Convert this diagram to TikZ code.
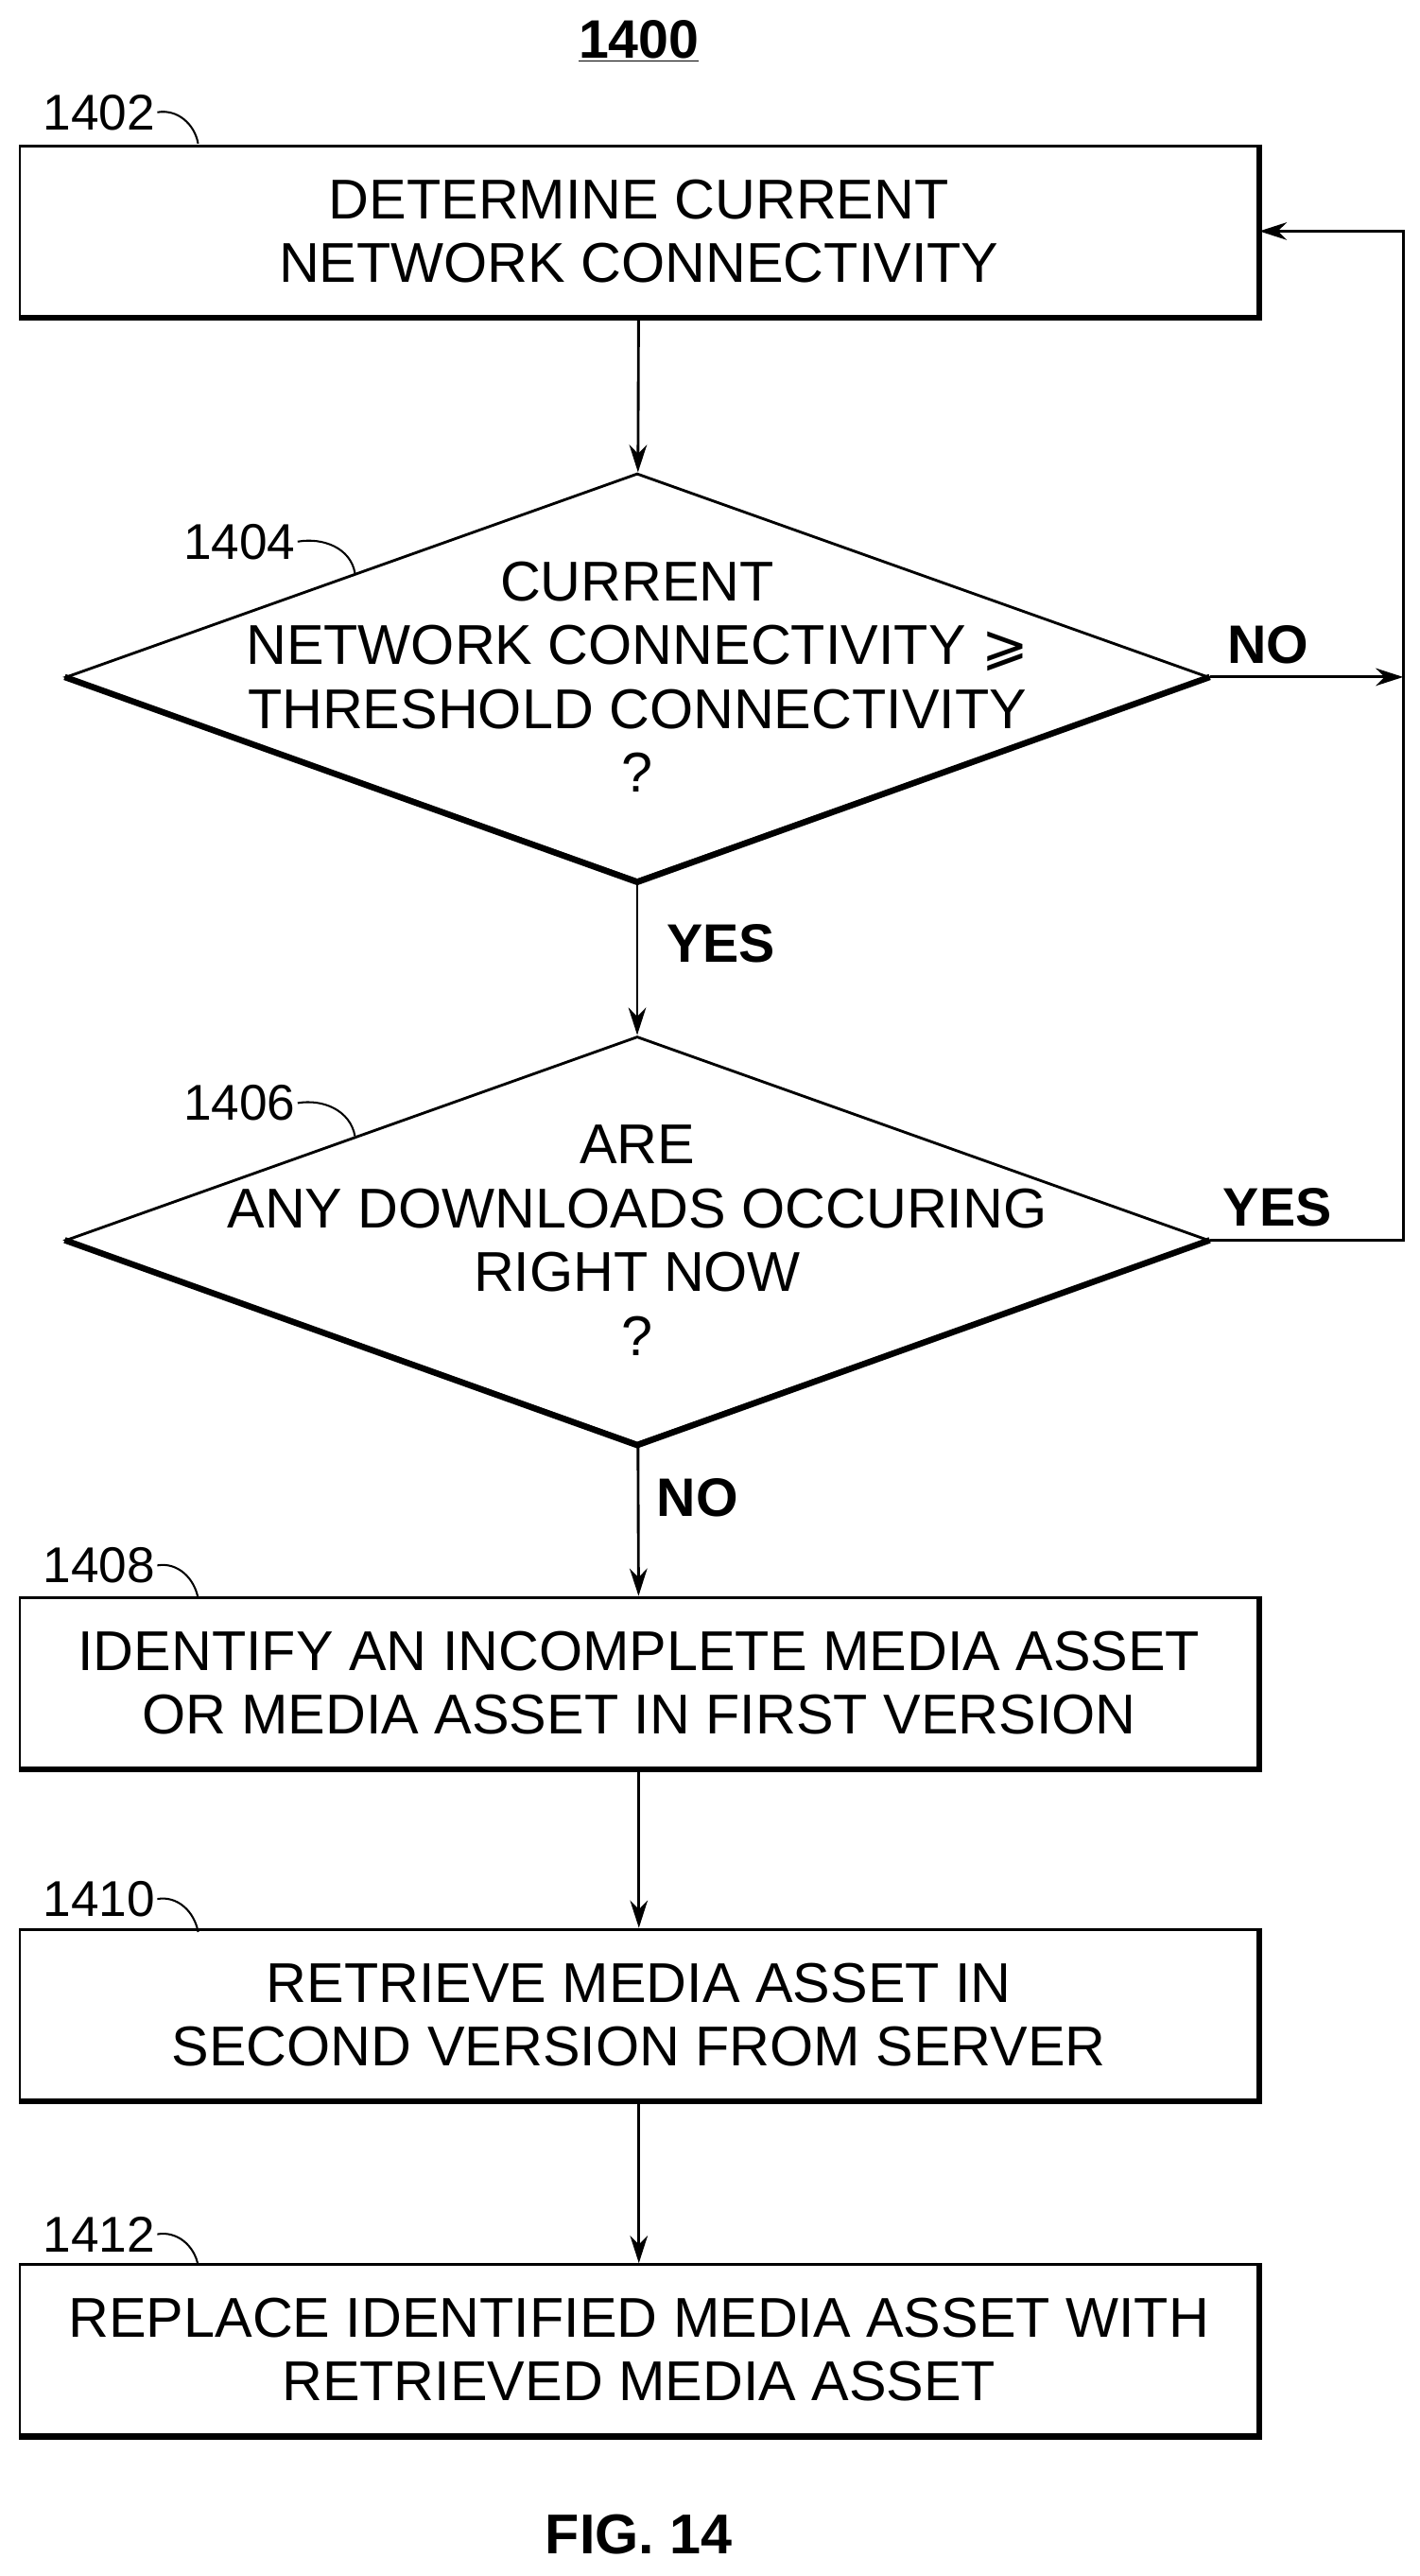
\documentclass[tikz,border=0pt]{standalone}
\usepackage{fontspec}
\setmainfont{Liberation Sans}
\newfontfamily\symfont{DejaVu Sans}
\usetikzlibrary{shapes.geometric,arrows.meta}
\tikzset{
    step-box/.style = {draw, line width=1.4pt, rectangle, minimum width=225mm, minimum height=31mm, align=center, font=\fontsize{29}{33}\selectfont},
    test-diamond/.style = {draw, line width=1.4pt, diamond, inner sep=0pt, minimum width=207.6mm, minimum height=74mm},
    test-text/.style = {align=center, font=\fontsize{29}{33}\selectfont},
    shade-edge/.style = {line width=3.2pt},
    flow/.style = {line width=1.4pt, -{Stealth[length=5mm,width=3.2mm]}},
    ref-num/.style = {font=\fontsize{26}{30}\selectfont, inner sep=1pt},
    hook/.style = {line width=1pt},
    answer/.style = {font=\bfseries\fontsize{28}{32}\selectfont},
}
\begin{document}
\begin{tikzpicture}[x=0.3mm, y=-0.3mm]
\useasboundingbox (0,0) rectangle (860,1560);
\node[font=\bfseries\fontsize{28}{32}\selectfont] (title) at (387,25) {\underline{1400}};

% process steps
\node[step-box] (determine) at (387,140) {DETERMINE CURRENT\\NETWORK CONNECTIVITY};
\node[test-diamond] (threshold) at (386,410) {};
\node[test-text] (threshold-text) at (threshold.center) {CURRENT\\NETWORK CONNECTIVITY {\symfont ⩾}\\THRESHOLD CONNECTIVITY\\?};
\node[test-diamond] (downloads) at (386,751) {};
\node[test-text] (downloads-text) at (downloads.center) {ARE\\ANY DOWNLOADS OCCURING\\RIGHT NOW\\?};
\node[step-box] (identify) at (387,1019) {IDENTIFY AN INCOMPLETE MEDIA ASSET\\OR MEDIA ASSET IN FIRST VERSION};
\node[step-box] (retrieve) at (387,1220) {RETRIEVE MEDIA ASSET IN\\SECOND VERSION FROM SERVER};
\node[step-box] (replace) at (387,1423) {REPLACE IDENTIFIED MEDIA ASSET WITH\\RETRIEVED MEDIA ASSET};

% thick shadow edges
\foreach \b in {determine, identify, retrieve, replace}
    \draw[shade-edge] (\b.north east) -- (\b.south east) -- (\b.south west);
\foreach \d in {threshold, downloads}
    \draw[shade-edge] (\d.west) -- (\d.south) -- (\d.east);

% connectors
\draw[flow] (determine) -- (threshold);
\draw[flow] (threshold) -- node[answer, right=4mm, pos=0.4] {YES} (downloads);
\draw[flow] (downloads) -- node[answer, right=2mm, pos=0.35] {NO} (identify);
\draw[flow] (identify) -- (retrieve);
\draw[flow] (retrieve) -- (replace);
\coordinate (loop-low) at (850,751);
\coordinate (loop-mid) at (850,410);
\coordinate (loop-top) at (850,140);
\draw[flow] (threshold.east) -- node[answer, above=1mm, pos=0.3] {NO} (loop-mid);
\draw[line width=1.4pt] (downloads.east) -- node[answer, above=1mm, pos=0.35] {YES} (loop-low) -- (loop-mid);
\draw[flow] (loop-mid) -- (loop-top) -- (determine.east);

% reference numerals
\foreach \n/\x/\y/\ex/\ey in {1402/60/68/120/87, 1404/145/328/215/347, 1406/145/668/215/688,
        1408/60/948/120/968, 1410/60/1150/120/1170, 1412/60/1353/120/1372} {
    \node[ref-num] (num-\n) at (\x,\y) {\n};
    \coordinate (tip-\n) at (\ex,\ey);
    \draw[hook] (num-\n.east) to[out=10, in=100] (tip-\n);
}

\node[font=\bfseries\fontsize{29}{33}\selectfont] (fig) at (387,1535) {FIG. 14};
\end{tikzpicture}
\end{document}
